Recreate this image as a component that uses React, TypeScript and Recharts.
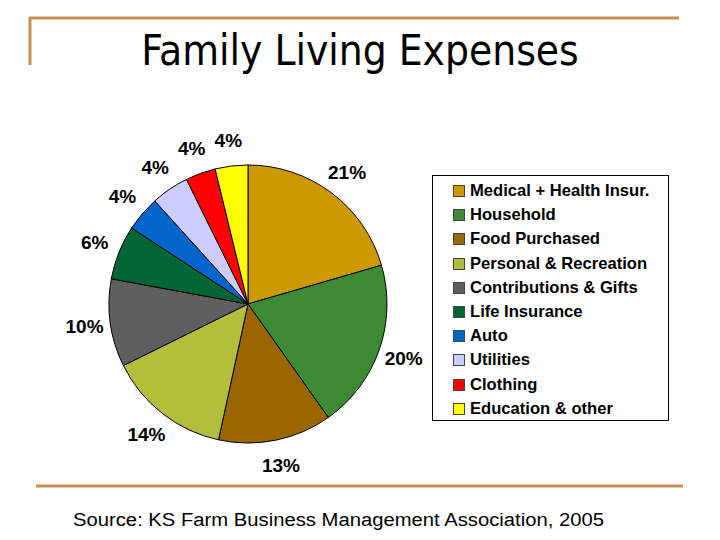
import { Cell, Legend, Pie, PieChart } from "recharts";

const CATEGORIES = [
  "Medical + Health Insur.",
  "Household",
  "Food Purchased",
  "Personal & Recreation",
  "Contributions & Gifts",
  "Life Insurance",
  "Auto",
  "Utilities",
  "Clothing",
  "Education & other",
];

// share of family living expenses, percent
const SHARES = [20.5, 19.7, 13.2, 14.3, 10.2, 6.3, 4.1, 4.4, 3.5, 3.8];

const COLORS = [
  "#CC9900",
  "#3C8A34",
  "#996600",
  "#B3BE3B",
  "#5F5F5F",
  "#006633",
  "#0066CC",
  "#CCCCFF",
  "#FF0000",
  "#FFFF00",
];

const TITLE = "Family Living Expenses";
const SOURCE = "Source:  KS Farm Business Management Association, 2005";

const chartData = CATEGORIES.map((name, i) => ({ name, value: SHARES[i] }));

const RADIAN = Math.PI / 180;
const ARIAL = "Arial, 'Liberation Sans', sans-serif";
const RULE = "#C4914F";

function renderLabel(props: any) {
  const { cx, cy, midAngle, outerRadius, value } = props;
  const r = outerRadius + 26;
  const x = cx + r * Math.cos(-midAngle * RADIAN);
  const y = cy + r * Math.sin(-midAngle * RADIAN);
  return (
    <text
      x={x}
      y={y}
      textAnchor="middle"
      dominantBaseline="central"
      fill="#000"
      fontFamily={ARIAL}
      fontWeight="bold"
      fontSize={19}
    >
      {`${Math.round(value)}%`}
    </text>
  );
}

function LegendBox(props: any) {
  // keep the legend in data order, not alphabetical
  const items = [...(props.payload || [])].sort(
    (a: any, b: any) => CATEGORIES.indexOf(a.value) - CATEGORIES.indexOf(b.value)
  );
  return (
    <div
      style={{
        width: 237,
        height: 246,
        boxSizing: "border-box",
        border: "1px solid #000",
        background: "#fff",
        padding: "3px 0 0 20px",
        fontFamily: ARIAL,
        fontWeight: "bold",
        fontSize: 16.6,
        color: "#000",
      }}
    >
      {items.map((item: any) => (
        <div
          key={item.value}
          style={{ display: "flex", alignItems: "center", height: 24.2, whiteSpace: "nowrap" }}
        >
          <span
            style={{
              display: "inline-block",
              width: 10,
              height: 10,
              background: item.color,
              border: "1px solid #444",
              marginRight: 5,
            }}
          />
          {item.value}
        </div>
      ))}
    </div>
  );
}

export default function App() {
  return (
    <div style={{ position: "absolute", left: 0, top: 0, width: 720, height: 540, background: "#fff" }}>
      <svg
        width={720}
        height={540}
        style={{ position: "absolute", left: 0, top: 0, pointerEvents: "none" }}
      >
        <line x1={29} y1={18} x2={679} y2={18} stroke={RULE} strokeWidth={3} />
        <line x1={30} y1={17} x2={30} y2={65} stroke={RULE} strokeWidth={3} />
        <text
          x={360}
          y={65}
          textAnchor="middle"
          fontFamily="'DejaVu Sans Condensed', 'DejaVu Sans', sans-serif"
          fontStretch="condensed"
          fontSize={42}
          fill="#000"
        >
          {TITLE}
        </text>
        <line x1={36} y1={486} x2={683} y2={486} stroke={RULE} strokeWidth={3} />
        <text
          x={73}
          y={526}
          fontFamily={ARIAL}
          fontSize={18}
          fill="#000"
          textLength={531}
          lengthAdjust="spacingAndGlyphs"
        >
          {SOURCE}
        </text>
      </svg>
      <div style={{ position: "absolute", left: 0, top: 0 }}>
        <PieChart width={720} height={540} margin={{ top: 0, right: 0, bottom: 0, left: 0 }}>
          <Pie
            data={chartData}
            dataKey="value"
            nameKey="name"
            cx={248}
            cy={304}
            outerRadius={139}
            startAngle={90}
            endAngle={-270}
            stroke="#000"
            strokeWidth={1}
            label={renderLabel}
            labelLine={false}
            isAnimationActive={false}
          >
            {chartData.map((d, i) => (
              <Cell key={d.name} fill={COLORS[i]} />
            ))}
          </Pie>
          <Legend
            layout="vertical"
            itemSorter={null}
            content={<LegendBox />}
            wrapperStyle={{ position: "absolute", left: 432, top: 175, width: 237, height: 246 }}
          />
        </PieChart>
      </div>
    </div>
  );
}
